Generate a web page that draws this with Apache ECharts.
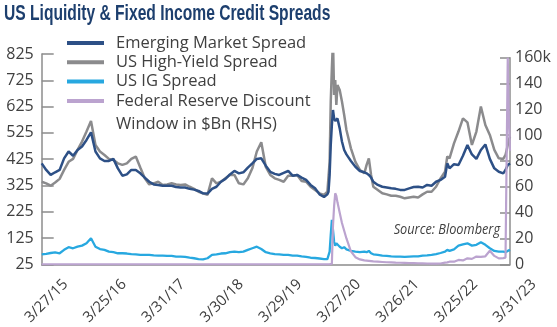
<!DOCTYPE html>
<html><head><meta charset="utf-8">
<script src="https://cdn.jsdelivr.net/npm/echarts@6/dist/echarts.min.js"></script>
<style>html,body{margin:0;padding:0;background:#fff}#c{width:557px;height:327px}</style>
</head><body><div id="c"></div>
<script>
// week index since 3/27/15 (weekly data)
const weeks = [0,4,8,12,16,20,24,28,32,36,40,44,48,52,56,60,
  64,68,72,76,80,84,88,92,96,100,104,108,112,116,120,124,
  128,132,136,140,144,148,152,156,160,164,168,172,176,180,184,188,
  192,196,200,204,208,212,216,220,224,228,232,236,240,244,248,252,
  255,256,257,258,259,260,261,262,263,264,
  266,268,270,272,
  276,280,284,288,
  290,292,294,296,
  300,304,308,312,316,320,324,328,332,336,340,344,348,352,356,360,
  362,364,
  368,372,376,380,384,388,392,396,400,404,408,412,
  414,416,417,418];

const emSpread = [409,384,365,375,384,428,454,438,460,473,498,527,454,428,418,418,
  426,390,362,367,384,384,371,355,339,329,327,324,324,324,319,317,
  317,312,309,304,295,294,312,320,339,350,367,380,371,375,393,409,
  426,428,400,377,369,365,373,380,362,365,355,346,327,314,291,281,
  291,301,365,479,555,612,580,570,565,580,
  542,492,460,443,
  418,396,380,375,
  371,365,355,339,
  327,320,317,314,312,308,308,314,319,320,317,327,324,339,346,358,
  409,390,
  406,403,438,479,443,426,460,481,426,390,377,371,
  384,403,406,409];

const hySpread = [339,333,324,336,350,384,415,426,460,492,530,570,479,454,441,426,
  422,409,403,409,426,435,393,352,329,333,339,327,329,333,329,327,
  329,320,312,301,295,289,352,333,339,352,365,365,333,329,352,390,
  454,489,396,365,352,346,339,362,362,365,342,339,320,308,295,289,
  301,308,415,644,770,878,669,726,631,707,
  688,644,593,536,
  466,415,384,371,
  403,428,365,320,
  308,295,291,286,286,282,276,279,282,279,291,301,301,320,352,377,
  435,428,
  485,530,580,565,479,530,625,555,517,460,428,426,
  441,479,498,511];

const igSpread = [63,65,68,70,67,80,90,86,92,96,105,124,92,83,80,73,
  71,67,67,66,64,63,61,61,61,59,58,58,57,57,54,54,
  53,50,48,45,44,48,61,63,66,67,71,73,71,73,80,86,
  92,83,71,67,64,63,61,61,58,58,55,53,50,49,47,45,
  45,48,73,137,194,156,111,96,105,101,
  92,86,90,82,
  76,73,71,73,
  71,76,67,63,
  61,58,57,55,54,54,53,54,55,55,58,59,61,64,68,73,
  80,76,
  82,96,101,105,96,99,109,99,86,76,73,73,
  71,76,78,80];

// Federal Reserve Discount Window, $Bn (thousands on RHS axis)
const fedWindow = [0,0,0,0,0,0,0,0,0,0,0,0,0,0,0,0,
  0,0,0,0,0,0,0,0,0,0,0,0,0,0,0,0,
  0,0,0,0,0,0,0,0,0,0,0,0,0,0,0,0,
  0,0,0,0,0,0,0,0,0,0,0,0,0,0,0,0,
  0,0,0,0.2,0.5,30,45,55,53,48,
  40,32,26,20,
  10,5.5,3.8,3.0,
  2.8,2.6,2.4,2.2,
  2.0,1.8,1.6,1.5,1.3,1.2,1.1,1.0,0.9,0.8,0.7,0.6,0.5,0.5,0.6,1.3,
  1.5,2.0,
  2.0,3.4,3.0,4.6,4.2,6.0,5.8,6.2,10.5,6.5,4.6,4.8,
  5.2,160,112,88];

const dateLabels = ['3/27/15','3/25/16','3/31/17','3/30/18','3/29/19','3/27/20','3/26/21','3/25/22','3/31/23'];
const seriesNames = ['Emerging Market Spread','US High-Yield Spread','US IG Spread','Federal Reserve Discount\nWindow in $Bn (RHS)'];
const colors = ['#2d5086','#8b8b8d','#27a8e0','#bba3cf'];

const FONT = '"Open Sans", sans-serif';
const AX = '#8c8c8c';
const TXT = '#404040';
const pair = arr => weeks.map((w, i) => [w, arr[i]]);

const chart = echarts.init(document.getElementById('c'), null, {renderer: 'canvas'});
chart.setOption({
  animation: false,
  color: colors,
  grid: [
    {left: 41.7, right: 47, top: 54, bottom: 62.7, outerBoundsMode: 'none', containLabel: false},
    {left: 41.7, right: 47, top: 57.7, bottom: 62.7, outerBoundsMode: 'none', containLabel: false},
    {left: 65.5, right: 23.2, top: 54, bottom: 62.7, outerBoundsMode: 'none', containLabel: false}
  ],
  graphic: [
    {type: 'text', x: 4, y: 3, scaleX: 0.71, originX: 0, originY: 0,
      style: {text: 'US Liquidity & Fixed Income Credit Spreads', font: 'bold 22px "Liberation Sans", sans-serif', fill: '#1d3f6e', verticalAlign: 'top'}},
    {type: 'text', x: 500, y: 230, scaleX: 0.85, originX: 0, originY: 0,
      style: {text: 'Source: Bloomberg', font: 'italic 15px "Open Sans", sans-serif', fill: TXT, align: 'right', verticalAlign: 'middle'}}
  ],
  legend: [
    {data: seriesNames.slice(0, 3), orient: 'vertical', left: 67, top: 33.5, padding: 0, itemGap: 0,
      itemWidth: 37, itemHeight: 4, icon: 'rect', selectedMode: false,
      textStyle: {fontFamily: FONT, fontSize: 16.5, color: TXT, lineHeight: 19.2, padding: [0, 0, 0, 7]}},
    {data: [seriesNames[3]], orient: 'vertical', left: 67, top: 66.5, padding: 0,
      itemWidth: 37, itemHeight: 4, icon: 'rect', selectedMode: false,
      formatter: name => '\n' + name,
      textStyle: {fontFamily: FONT, fontSize: 16.5, color: TXT, lineHeight: 23, padding: [0, 0, 0, 7]}}
  ],
  xAxis: [
    {gridIndex: 0, type: 'value', min: 0, max: 418, interval: 52.25,
      axisLine: {show: true, onZero: false, lineStyle: {color: AX, width: 1.5}},
      axisTick: {show: false}, splitLine: {show: false}, axisLabel: {show: false}},
    {gridIndex: 1, type: 'value', min: 0, max: 418, show: false},
    {gridIndex: 2, type: 'value', min: 0, max: 418, interval: 52.25,
      axisLine: {show: false}, axisTick: {show: false}, splitLine: {show: false},
      axisLabel: {rotate: 45, formatter: v => dateLabels[Math.round(v / 52.25)] || '',
        color: TXT, fontSize: 15, fontFamily: FONT, margin: 17.5,
        showMinLabel: true, showMaxLabel: true, hideOverlap: false}}
  ],
  yAxis: [
    {gridIndex: 0, type: 'value', min: 25, max: 825, interval: 100, position: 'left',
      axisLine: {show: true, onZero: false, lineStyle: {color: AX, width: 1.5}},
      axisTick: {show: true, inside: true, length: 12, lineStyle: {color: AX, width: 1.5}},
      splitLine: {show: false},
      axisLabel: {color: TXT, fontSize: 16, fontFamily: FONT, margin: 8}},
    {gridIndex: 1, type: 'value', min: 0, max: 160, interval: 20, position: 'right',
      axisLine: {show: true, onZero: false, lineStyle: {color: AX, width: 1.5}},
      axisTick: {show: true, inside: true, length: 10, lineStyle: {color: AX, width: 1.5}},
      splitLine: {show: false},
      axisLabel: {color: TXT, fontSize: 16, fontFamily: FONT, margin: 5,
        formatter: v => v === 160 ? '160k' : String(v)}},
    {gridIndex: 2, type: 'value', min: 0, max: 1, show: false}
  ],
  series: [
    {name: seriesNames[0], type: 'line', xAxisIndex: 0, yAxisIndex: 0, data: pair(emSpread), showSymbol: false, symbol: 'none', z: 4, lineStyle: {width: 2.5, color: colors[0]}},
    {name: seriesNames[1], type: 'line', xAxisIndex: 0, yAxisIndex: 0, data: pair(hySpread), showSymbol: false, symbol: 'none', z: 3, lineStyle: {width: 2.5, color: colors[1]}},
    {name: seriesNames[2], type: 'line', xAxisIndex: 0, yAxisIndex: 0, data: pair(igSpread), showSymbol: false, symbol: 'none', z: 3, lineStyle: {width: 2.3, color: colors[2]}},
    {name: seriesNames[3], type: 'line', xAxisIndex: 1, yAxisIndex: 1, data: pair(fedWindow), showSymbol: false, symbol: 'none', z: 5, lineStyle: {width: 2.2, color: colors[3]}}
  ]
});
</script>
</body></html>
